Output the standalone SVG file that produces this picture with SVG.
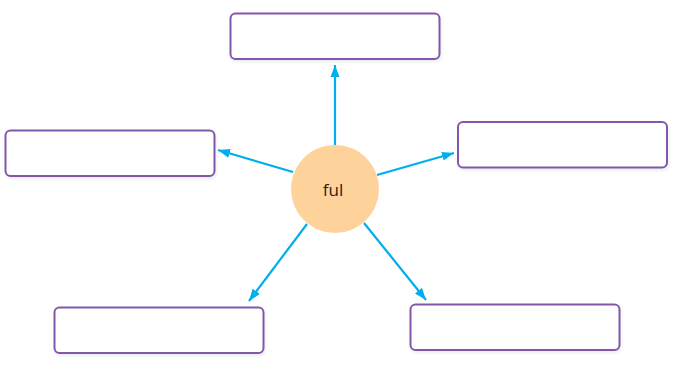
<svg xmlns="http://www.w3.org/2000/svg" width="681" height="385" viewBox="0 0 681 385">
<defs>
<filter id="sh" x="-10%" y="-20%" width="120%" height="150%">
<feDropShadow dx="1" dy="2" stdDeviation="1.5" flood-color="#9fb6c8" flood-opacity="0.25"/>
</filter>
<marker id="ah" viewBox="0 0 10 10" refX="9" refY="5" markerWidth="5" markerHeight="5" orient="auto" markerUnits="userSpaceOnUse">
<path d="M0,0 L10,5 L0,10 Z" fill="#00aeef"/>
</marker>
<marker id="arr" viewBox="0 0 12 10" refX="12" refY="5" markerWidth="12" markerHeight="10" orient="auto" markerUnits="userSpaceOnUse">
<path d="M0,0.5 L12,5 L0,9.5 Z" fill="#00aeef"/>
</marker>
</defs>
<style>
.box{fill:#ffffff;stroke:#8457aa;stroke-width:2;filter:url(#sh)}
.con{stroke:#00aeef;stroke-width:2.2;fill:none;marker-end:url(#arr)}
.lbl{font-family:"Open Sans","Noto Sans",sans-serif;font-size:17px;fill:#231f20}
</style>
<rect width="681" height="385" fill="#ffffff"/>
<g id="connectors">
<line class="con" x1="335" y1="145" x2="335" y2="65"/>
<line class="con" x1="293" y1="172" x2="218" y2="150"/>
<line class="con" x1="377" y1="175" x2="454" y2="153"/>
<line class="con" x1="307" y1="224" x2="249" y2="301"/>
<line class="con" x1="364" y1="223" x2="426" y2="300"/>
</g>
<g id="center">
<circle cx="335" cy="189" r="44" fill="#fed29b"/>
<text class="lbl" x="333" y="196" text-anchor="middle">ful</text>
</g>
<g id="box-top"><rect class="box" x="230.5" y="13.5" width="209" height="45.5" rx="5"/></g>
<g id="box-left"><rect class="box" x="5.5" y="130.5" width="209" height="45.5" rx="5"/></g>
<g id="box-right"><rect class="box" x="458" y="122" width="209" height="45.5" rx="5"/></g>
<g id="box-bottom-left"><rect class="box" x="54.5" y="307.5" width="209" height="45.5" rx="5"/></g>
<g id="box-bottom-right"><rect class="box" x="410.5" y="304.5" width="209" height="45.5" rx="5"/></g>
</svg>
